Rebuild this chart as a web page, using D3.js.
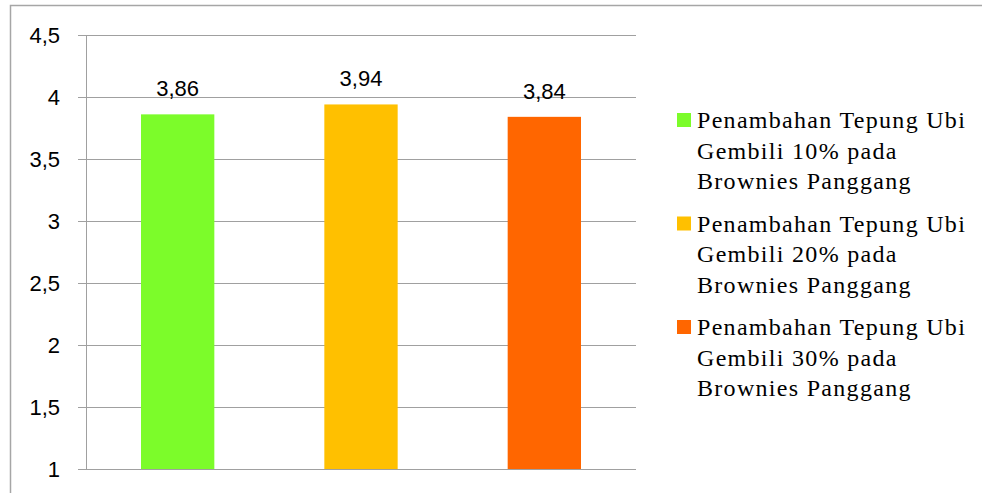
<!DOCTYPE html>
<html>
<head>
<meta charset="utf-8">
<script src="https://cdn.jsdelivr.net/npm/d3@7"></script>
<style>
  body { margin: 0; background: #fff; }
  svg { display: block; }
</style>
</head>
<body>
<svg width="982" height="493"></svg>
<script>
// data
const categories = ['10%', '20%', '30%']
const values = [3.86, 3.94, 3.84]
const labels = ['3,86', '3,94', '3,84']
const colors = ['#7cfc2a', '#ffc000', '#ff6600']
const legendLines = [
  ['Penambahan Tepung Ubi', 'Gembili 10% pada', 'Brownies Panggang'],
  ['Penambahan Tepung Ubi', 'Gembili 20% pada', 'Brownies Panggang'],
  ['Penambahan Tepung Ubi', 'Gembili 30% pada', 'Brownies Panggang']
]
const yTicks = [1, 1.5, 2, 2.5, 3, 3.5, 4, 4.5]

const svg = d3.select('svg')

// outer frame (only top + left visible)
svg.append('path')
  .attr('d', 'M10.5,493 V5.5 H982')
  .attr('fill', 'none')
  .attr('stroke', '#a6a6a6')
  .attr('stroke-width', 1.5)

const margin = {left: 86, top: 35, right: 636, bottom: 469}

const x = d3.scaleBand()
  .domain(categories)
  .range([margin.left, margin.right])
  .paddingInner(0.6)
  .paddingOuter(0.3)

const y = d3.scaleLinear()
  .domain([1, 4.5])
  .range([margin.bottom, margin.top])

// gridlines
svg.append('g')
  .selectAll('line')
  .data(yTicks)
  .enter().append('line')
    .attr('x1', margin.left - 8)
    .attr('x2', margin.right)
    .attr('y1', d => Math.round(y(d)) + 0.5)
    .attr('y2', d => Math.round(y(d)) + 0.5)
    .attr('stroke', '#a0a0a0')
    .attr('stroke-width', 1)

// y axis line
svg.append('line')
  .attr('x1', margin.left + 0.5)
  .attr('x2', margin.left + 0.5)
  .attr('y1', margin.top)
  .attr('y2', margin.bottom)
  .attr('stroke', '#a0a0a0')

// tick labels
svg.append('g')
  .selectAll('text')
  .data(yTicks)
  .enter().append('text')
    .attr('x', 60)
    .attr('y', d => y(d))
    .attr('dy', '0.36em')
    .attr('text-anchor', 'end')
    .attr('font-family', 'Liberation Sans, Arial, sans-serif')
    .attr('font-size', 22)
    .attr('fill', '#000')
    .text(d => String(d).replace('.', ','))

// bars
svg.append('g')
  .selectAll('rect')
  .data(values)
  .enter().append('rect')
    .attr('x', (d, i) => x(categories[i]))
    .attr('width', x.bandwidth())
    .attr('y', d => y(d))
    .attr('height', d => y(1) - y(d))
    .attr('fill', (d, i) => colors[i])

// value labels
svg.append('g')
  .selectAll('text')
  .data(values)
  .enter().append('text')
    .attr('x', (d, i) => x(categories[i]) + x.bandwidth() / 2)
    .attr('y', d => y(d) - 26)
    .attr('dy', '0.36em')
    .attr('text-anchor', 'middle')
    .attr('font-family', 'Liberation Sans, Arial, sans-serif')
    .attr('font-size', 22)
    .attr('fill', '#000')
    .text((d, i) => labels[i])

// legend
const legend = svg.append('g')
  .selectAll('g')
  .data(legendLines)
  .enter().append('g')
    .attr('transform', (d, i) => 'translate(677,' + (113 + i * 103.5) + ')')

legend.append('rect')
  .attr('width', 14)
  .attr('height', 14)
  .attr('fill', (d, i) => colors[i])

legend.append('text')
  .attr('font-family', 'Liberation Serif, Times New Roman, serif')
  .attr('font-size', 24)
  .attr('letter-spacing', 1.3)
  .attr('fill', '#000')
  .selectAll('tspan')
  .data(d => d)
  .enter().append('tspan')
    .attr('x', 20)
    .attr('y', (d, i) => 15 + i * 30.5)
    .text(d => d)
</script>
</body>
</html>
